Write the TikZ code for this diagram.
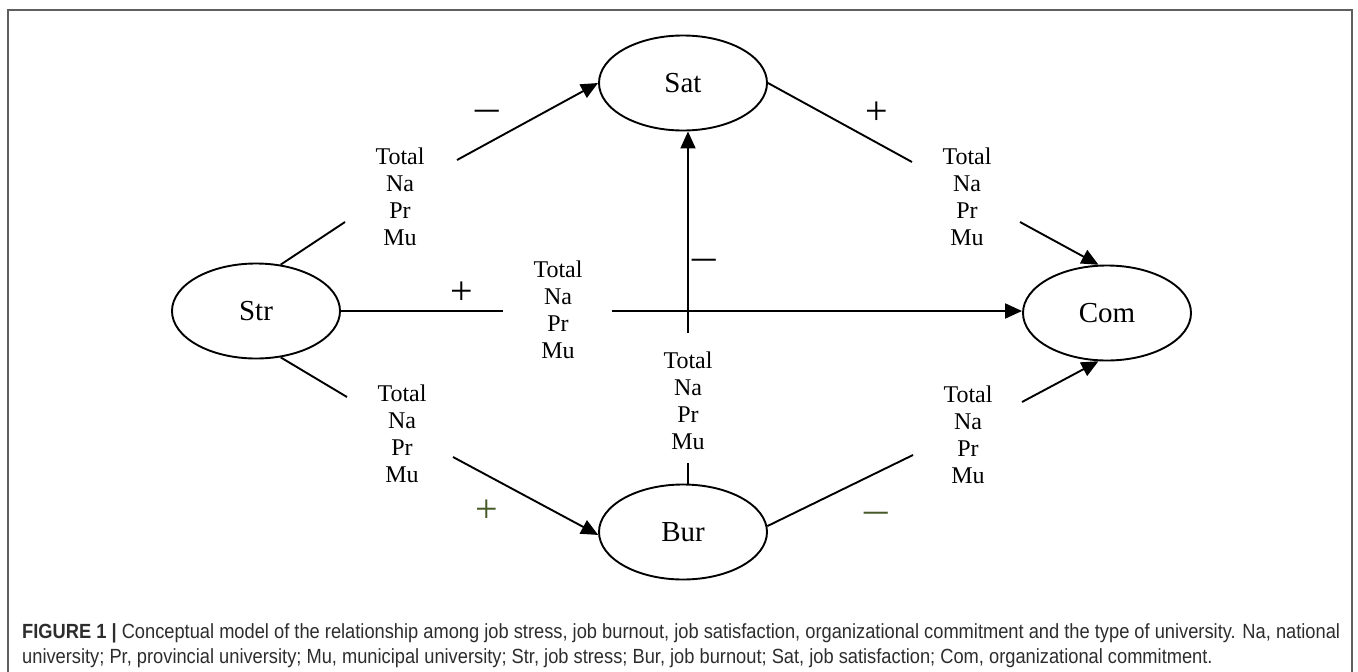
\documentclass[tikz,border=0pt]{standalone}
\usepackage{graphicx}
\usepackage{fontspec}
\setmainfont{Liberation Serif}
\newfontfamily\capfont{Liberation Sans}
\usetikzlibrary{arrows.meta,shapes.geometric}
\definecolor{framegray}{RGB}{95,95,95}
\definecolor{signgreen}{RGB}{70,90,40}
\definecolor{captext}{RGB}{45,45,45}
\newlength\capwidth
\newcommand\capone{\textbf{FIGURE 1 |} Conceptual model of the relationship among job stress, job burnout, job satisfaction, organizational commitment and the type of university. Na, national}
\newcommand\captwo{university; Pr, provincial university; Mu, municipal university; Str, job stress; Bur, job burnout; Sat, job satisfaction; Com, organizational commitment.}
\newcommand\wideminus{\scalebox{1.3}[1]{−}}
\begin{document}
\settowidth\capwidth{\capfont\fontsize{20.5}{25}\selectfont\capone}%
\pgfmathsetmacro\capsx{1318/\capwidth}%
\begin{tikzpicture}[x=1pt,y=-1pt,
  ell/.style={draw,ellipse,line width=1.9pt,minimum width=168pt,minimum height=95pt,inner sep=0pt,font=\fontsize{29}{30}\selectfont},
  lab/.style={align=center,font=\fontsize{24}{27}\selectfont,inner sep=0pt},
  sgn/.style={font=\fontsize{40}{40}\selectfont,inner sep=0pt},
  conn/.style={line width=1.9pt},
  arr/.style={conn,-{Triangle[length=17pt,width=15pt]}},
  capline/.style={anchor=base west,inner sep=0pt,text=captext,font=\capfont\fontsize{20.5}{25}\selectfont}
]
\useasboundingbox (0,0) rectangle (1358,672);
% frame
\draw[framegray,line width=1.8pt] (8,672) -- (8,10) -- (1352,10) -- (1352,672);

% ellipses
\node[ell] (Str) at (256,311) {Str};
\node[ell] (Sat) at (683,83) {Sat};
\node[ell] (Com) at (1107,313) {Com};
\node[ell] (Bur) at (683,532) {Bur};

% label blocks
\node[lab] (L1) at (400,197) {Total\\Na\\Pr\\Mu};
\node[lab] (L2) at (967,197) {Total\\Na\\Pr\\Mu};
\node[lab] (L3) at (558,310) {Total\\Na\\Pr\\Mu};
\node[lab] (L4) at (402,434) {Total\\Na\\Pr\\Mu};
\node[lab] (L5) at (688,401) {Total\\Na\\Pr\\Mu};
\node[lab] (L6) at (968,435) {Total\\Na\\Pr\\Mu};

% signs
\node[sgn] (s1) at (487,117) {\wideminus};
\node[sgn] (s2) at (877,113) {+};
\node[sgn] (s3) at (462,293) {+};
\node[sgn] (s4) at (704,266) {\wideminus};
\node[sgn,text=signgreen] (s5) at (487,511) {+};
\node[sgn,text=signgreen] (s6) at (876,519) {\wideminus};

% free ends of connectors
\coordinate (a1) at (345,222);
\coordinate (a2) at (457,160);
\coordinate (b1) at (912,162);
\coordinate (b2) at (1020,222);
\coordinate (h1) at (503,311);
\coordinate (h2) at (612,311);
\coordinate (c1) at (347,397);
\coordinate (c2) at (453,457);
\coordinate (d1) at (913,455);
\coordinate (d2) at (1022,402);
\coordinate (v1) at (688,463);
\coordinate (v2) at (688,333);

% connectors
\draw[conn] (Str.62) -- (a1);
\draw[arr] (a2) -- (Sat.west);
\draw[conn] (Sat.east) -- (b1);
\draw[arr] (b2) -- (Com.100);
\draw[conn] (Str.east) -- (h1);
\draw[arr] (h2) -- (h2 -| Com.west);
\draw[conn] (Str.-62) -- (c1);
\draw[arr] (c2) -- (Bur.182);
\draw[conn] (Bur.4) -- (d1);
\draw[arr] (d2) -- (Com.-100);
\draw[conn] (v1) -- (v1 |- Bur.north);
\draw[arr] (v2) -- (v2 |- Sat.south);

% caption
\node[capline] (cap1) at (22,638) {\scalebox{\capsx}[1]{\capone}};
\node[capline] (cap2) at (22,663) {\scalebox{\capsx}[1]{\captwo}};
\end{tikzpicture}
\end{document}
